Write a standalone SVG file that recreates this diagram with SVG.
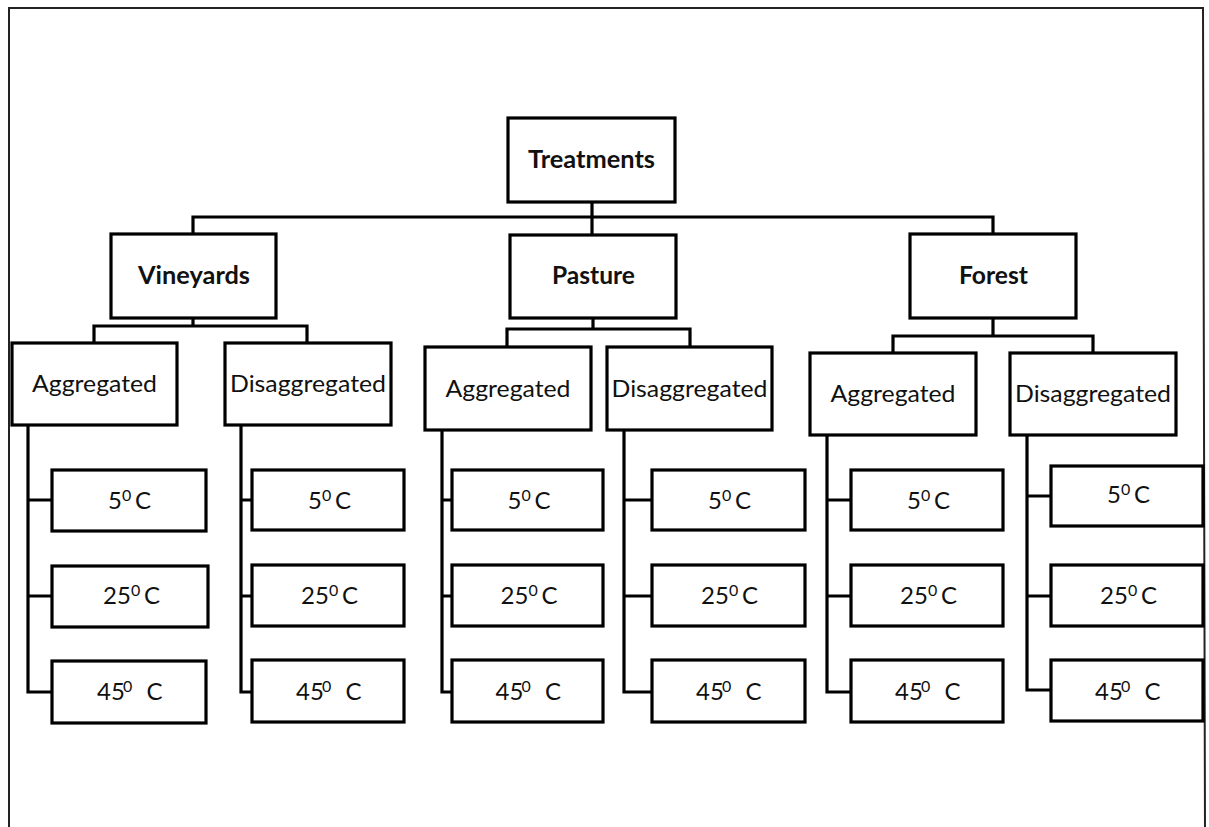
<svg xmlns="http://www.w3.org/2000/svg" width="1209" height="827" viewBox="0 0 1209 827">
<style>
.frame{fill:none;stroke:#222;stroke-width:2}
.box{fill:#fff;stroke:#000;stroke-width:3.2;stroke-linejoin:miter}
.con{fill:none;stroke:#000;stroke-width:3.2;stroke-linecap:square}
.b{font-family:Lato,"Liberation Sans",sans-serif;font-weight:bold;font-size:24px;fill:#111;text-anchor:middle}
.n{font-family:Lato,"Liberation Sans",sans-serif;font-size:24px;fill:#111;text-anchor:middle}
.t{font-family:Lato,"Liberation Sans",sans-serif;font-size:24px;fill:#111}
.sup{font-size:16px}
</style>
<rect width="1209" height="827" fill="#fff"/>
<path class="frame" d="M9,835 L9,8 L1203,8 L1205,835"/>
<g id="connectors">
<path class="con" d="M592,202 V235 M193,234 V217 H993 V234"/>
<path class="con" d="M193,318 V326 M94,343 V326 H307 V343"/>
<path class="con" d="M593,318 V329 M507,347 V329 H690 V347"/>
<path class="con" d="M993,318 V336 M893,353 V336 H1093 V353"/>
<path class="con" d="M28,425 V692 H52 M28,500 H52 M28,596 H52"/>
<path class="con" d="M241,425 V692 H252 M241,500 H252 M241,596 H252"/>
<path class="con" d="M442,430 V692 H452 M442,500 H452 M442,596 H452"/>
<path class="con" d="M624,430 V692 H652 M624,500 H652 M624,596 H652"/>
<path class="con" d="M827,435 V692 H851 M827,500 H851 M827,596 H851"/>
<path class="con" d="M1027,435 V690 H1051 M1027,496 H1051 M1027,596 H1051"/>
</g>
<g id="treatments"><rect class="box" x="508" y="118" width="167" height="84"/><text class="b" x="591.5" y="168" textLength="127" lengthAdjust="spacingAndGlyphs">Treatments</text></g>
<g id="vineyards"><rect class="box" x="111" y="234" width="165" height="84"/><text class="b" x="194" y="284" textLength="112" lengthAdjust="spacingAndGlyphs">Vineyards</text></g>
<g id="pasture"><rect class="box" x="510" y="235" width="166" height="83"/><text class="b" x="593.5" y="284" textLength="83" lengthAdjust="spacingAndGlyphs">Pasture</text></g>
<g id="forest"><rect class="box" x="910" y="234" width="166" height="84"/><text class="b" x="993.5" y="284" textLength="69" lengthAdjust="spacingAndGlyphs">Forest</text></g>
<g id="v-agg"><rect class="box" x="12" y="343" width="165" height="82"/><text class="n" x="94.5" y="392" textLength="125" lengthAdjust="spacingAndGlyphs">Aggregated</text></g>
<g id="v-dis"><rect class="box" x="225" y="343" width="166" height="82"/><text class="n" x="308" y="392" textLength="156" lengthAdjust="spacingAndGlyphs">Disaggregated</text></g>
<g id="p-agg"><rect class="box" x="425" y="347" width="166" height="83"/><text class="n" x="508" y="397" textLength="125" lengthAdjust="spacingAndGlyphs">Aggregated</text></g>
<g id="p-dis"><rect class="box" x="607" y="347" width="165" height="83"/><text class="n" x="689.5" y="397" textLength="156" lengthAdjust="spacingAndGlyphs">Disaggregated</text></g>
<g id="f-agg"><rect class="box" x="810" y="353" width="166" height="82"/><text class="n" x="893" y="402" textLength="125" lengthAdjust="spacingAndGlyphs">Aggregated</text></g>
<g id="f-dis"><rect class="box" x="1010" y="353" width="166" height="82"/><text class="n" x="1093" y="402" textLength="156" lengthAdjust="spacingAndGlyphs">Disaggregated</text></g>

<g id="v-agg-5"><rect class="box" x="52" y="470" width="154" height="61"/><text class="t" y="509"><tspan x="108">5</tspan><tspan class="sup" x="122" dy="-8">0</tspan><tspan x="135" dy="8">C</tspan></text></g>
<g id="v-agg-25"><rect class="box" x="52" y="566" width="156" height="61"/><text class="t" y="604"><tspan x="103">25</tspan><tspan class="sup" x="131" dy="-8">0</tspan><tspan x="144" dy="8">C</tspan></text></g>
<g id="v-agg-45"><rect class="box" x="52" y="661" width="154" height="62"/><text class="t" y="700"><tspan x="97">45</tspan><tspan class="sup" x="123" dy="-8">0</tspan><tspan x="146.5" dy="8">C</tspan></text></g>

<g id="v-dis-5"><rect class="box" x="252" y="470" width="152" height="60"/><text class="t" y="509"><tspan x="308">5</tspan><tspan class="sup" x="322" dy="-8">0</tspan><tspan x="335" dy="8">C</tspan></text></g>
<g id="v-dis-25"><rect class="box" x="252" y="565" width="152" height="61"/><text class="t" y="604"><tspan x="301">25</tspan><tspan class="sup" x="329" dy="-8">0</tspan><tspan x="342" dy="8">C</tspan></text></g>
<g id="v-dis-45"><rect class="box" x="252" y="660" width="152" height="62"/><text class="t" y="700"><tspan x="296">45</tspan><tspan class="sup" x="322" dy="-8">0</tspan><tspan x="345.5" dy="8">C</tspan></text></g>

<g id="p-agg-5"><rect class="box" x="452" y="470" width="151" height="60"/><text class="t" y="509"><tspan x="507.5">5</tspan><tspan class="sup" x="521.5" dy="-8">0</tspan><tspan x="534.5" dy="8">C</tspan></text></g>
<g id="p-agg-25"><rect class="box" x="452" y="565" width="151" height="61"/><text class="t" y="604"><tspan x="500.5">25</tspan><tspan class="sup" x="528.5" dy="-8">0</tspan><tspan x="541.5" dy="8">C</tspan></text></g>
<g id="p-agg-45"><rect class="box" x="452" y="660" width="151" height="62"/><text class="t" y="700"><tspan x="495.5">45</tspan><tspan class="sup" x="521.5" dy="-8">0</tspan><tspan x="545" dy="8">C</tspan></text></g>

<g id="p-dis-5"><rect class="box" x="652" y="470" width="153" height="60"/><text class="t" y="509"><tspan x="708">5</tspan><tspan class="sup" x="722" dy="-8">0</tspan><tspan x="735" dy="8">C</tspan></text></g>
<g id="p-dis-25"><rect class="box" x="652" y="565" width="153" height="61"/><text class="t" y="604"><tspan x="701">25</tspan><tspan class="sup" x="729" dy="-8">0</tspan><tspan x="742" dy="8">C</tspan></text></g>
<g id="p-dis-45"><rect class="box" x="652" y="660" width="153" height="62"/><text class="t" y="700"><tspan x="696">45</tspan><tspan class="sup" x="722" dy="-8">0</tspan><tspan x="745.5" dy="8">C</tspan></text></g>

<g id="f-agg-5"><rect class="box" x="851" y="470" width="152" height="60"/><text class="t" y="509"><tspan x="907">5</tspan><tspan class="sup" x="921" dy="-8">0</tspan><tspan x="934" dy="8">C</tspan></text></g>
<g id="f-agg-25"><rect class="box" x="851" y="565" width="152" height="61"/><text class="t" y="604"><tspan x="900">25</tspan><tspan class="sup" x="928" dy="-8">0</tspan><tspan x="941" dy="8">C</tspan></text></g>
<g id="f-agg-45"><rect class="box" x="851" y="660" width="152" height="62"/><text class="t" y="700"><tspan x="895">45</tspan><tspan class="sup" x="921" dy="-8">0</tspan><tspan x="944.5" dy="8">C</tspan></text></g>

<g id="f-dis-5"><rect class="box" x="1051" y="466" width="152" height="60"/><text class="t" y="503"><tspan x="1107">5</tspan><tspan class="sup" x="1121" dy="-8">0</tspan><tspan x="1134" dy="8">C</tspan></text></g>
<g id="f-dis-25"><rect class="box" x="1051" y="565" width="152" height="61"/><text class="t" y="604"><tspan x="1100">25</tspan><tspan class="sup" x="1128" dy="-8">0</tspan><tspan x="1141" dy="8">C</tspan></text></g>
<g id="f-dis-45"><rect class="box" x="1051" y="660" width="152" height="61"/><text class="t" y="700"><tspan x="1095">45</tspan><tspan class="sup" x="1121" dy="-8">0</tspan><tspan x="1144.5" dy="8">C</tspan></text></g>
</svg>
